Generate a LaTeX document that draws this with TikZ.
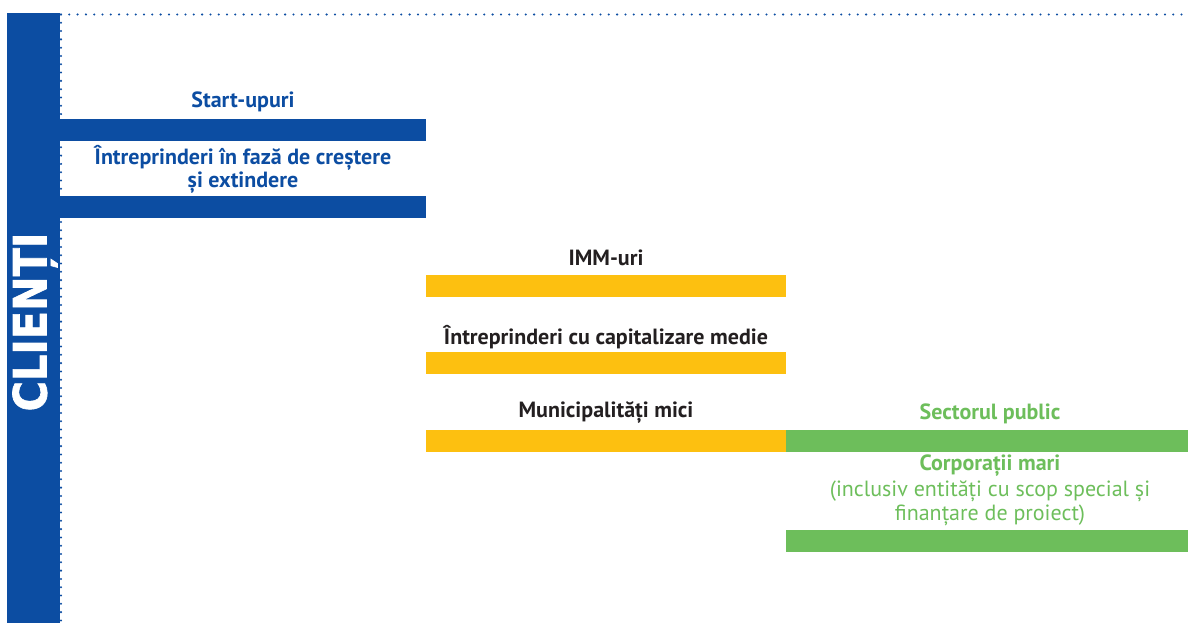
\documentclass[tikz,border=0pt]{standalone}
\usepackage{fontspec}
\setmainfont{PT Sans}
\newfontfamily\heavyfont[FakeBold=1.6]{DejaVu Sans}
\definecolor{cblue}{HTML}{0C4DA2}
\definecolor{cyellow}{HTML}{FDC010}
\definecolor{cgreen}{HTML}{6DBE5B}
\definecolor{ctext}{HTML}{231F20}
\tikzset{
  bar/.style={fill=#1, draw=none},
  lbl/.style={font=\fontsize{22}{23.5}\selectfont\bfseries, align=center, inner sep=0pt, text=#1},
  sublbl/.style={font=\fontsize{22}{23.5}\selectfont, align=center, inner sep=0pt, text=#1},
  dotline/.style={cblue, line width=2.3pt, line cap=round, dash pattern=on 0pt off 8.3pt}
}
\begin{document}
\begin{tikzpicture}[x=1pt,y=-1pt]
\useasboundingbox (0,0) rectangle (1188,623);
% side bar
\fill[cblue] (7,13) rectangle (60,623);
\node[rotate=90, text=white, inner sep=0pt, font=\fontsize{46}{46}\selectfont\heavyfont\bfseries] (clienti) at (35,322) {\scalebox{0.9}[1]{CLIENȚI}};
% dotted lines
\coordinate (tl) at (61,14.5);
\coordinate (tr) at (1186,14.5);
\coordinate (bl) at (61,623);
\draw[dotline] (tl) -- (tr);
\draw[dotline] (tl) -- (bl);
% blue bars
\fill[bar=cblue] (60,119) rectangle (426,141);
\fill[bar=cblue] (60,196) rectangle (426,218);
% yellow bars
\fill[bar=cyellow] (426,275) rectangle (786,297);
\fill[bar=cyellow] (426,352) rectangle (786,374);
\fill[bar=cyellow] (426,430) rectangle (786,452);
% green bars
\fill[bar=cgreen] (786,430) rectangle (1188,452);
\fill[bar=cgreen] (786,530) rectangle (1188,552);
% labels
\node[lbl=cblue] (start) at (243,102) {Start-upuri};
\node[lbl=cblue] (cresc) at (243,169.5) {Întreprinderi în fază de creștere\\și extindere};
\node[lbl=ctext] (imm) at (606,258) {IMM-uri};
\node[lbl=ctext] (cap) at (606,337) {Întreprinderi cu capitalizare medie};
\node[lbl=ctext] (mun) at (606,413) {Municipalități mici};
\node[lbl=cgreen] (pub) at (990,414) {Sectorul public};
\node[lbl=cgreen] (corp) at (990,466) {Corporații mari};
\node[sublbl=cgreen] (incl) at (990,503.5) {(inclusiv entități cu scop special și\\finanțare de proiect)};
\end{tikzpicture}
\end{document}
